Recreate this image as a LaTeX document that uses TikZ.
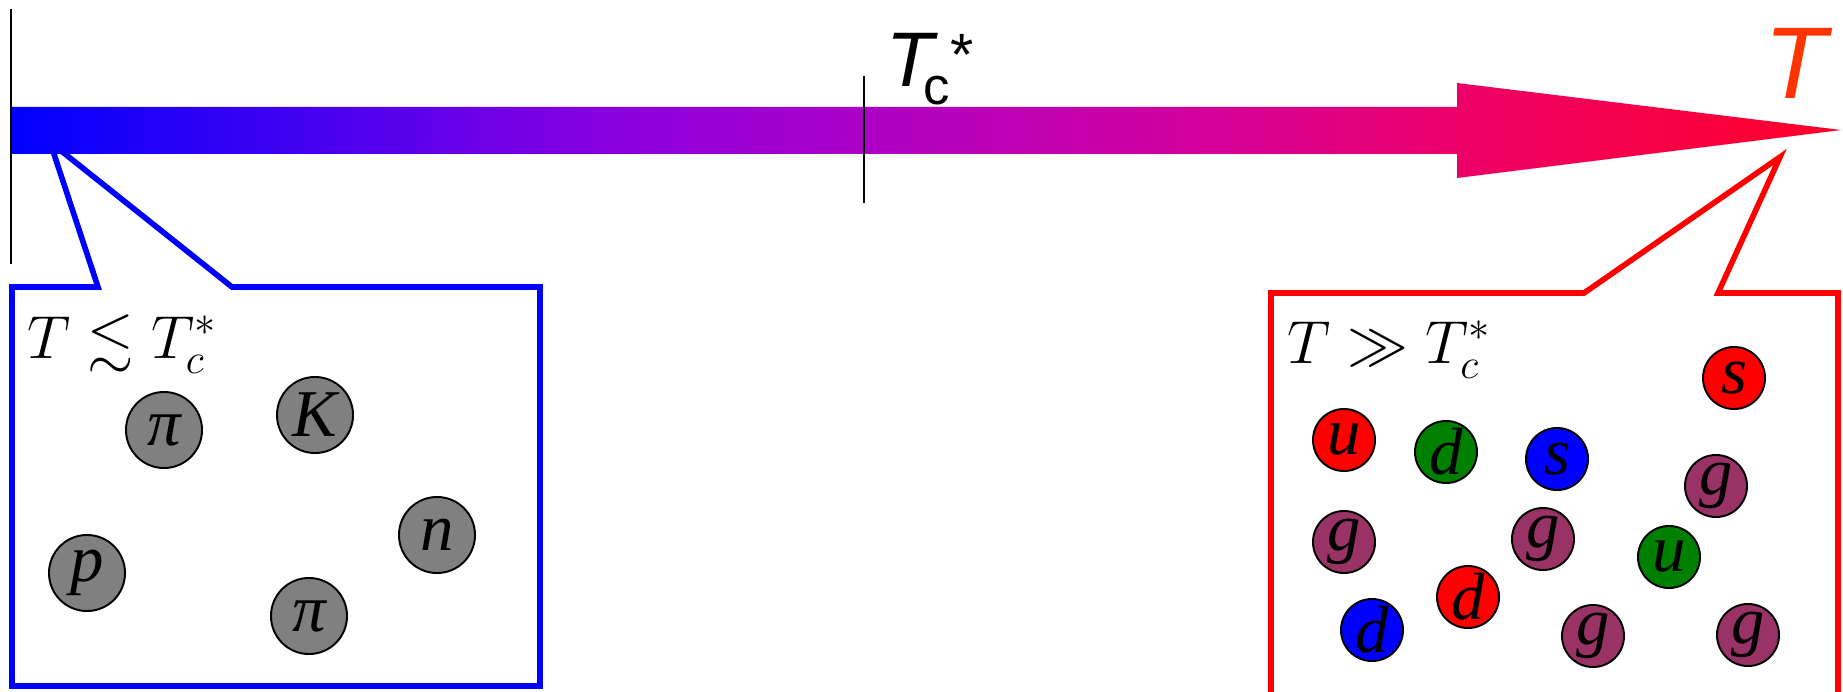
\documentclass[tikz,border=0pt]{standalone}
\usepackage{fontspec}
\usepackage{amsmath, amssymb}
\usepackage{xcolor}
\newfontfamily\axisfont{Liberation Sans}
\newfontfamily\partfont{Liberation Serif}
\definecolor{hadrongray}{RGB}{128,128,128}
\definecolor{gluon}{RGB}{153,51,102}
\definecolor{qgreen}{RGB}{0,128,0}
\definecolor{hotred}{RGB}{255,51,0}
\pgfdeclarehorizontalshading{tempgrad}{100bp}{rgb(0bp)=(0,0,1); rgb(25bp)=(0,0,1);
  rgb(41bp)=(0.53,0,0.88); rgb(48bp)=(0.67,0,0.78); rgb(57bp)=(0.82,0,0.62);
  rgb(65bp)=(0.93,0,0.4); rgb(75bp)=(1,0,0.15); rgb(100bp)=(1,0,0.15)}

\begin{document}
\begin{tikzpicture}[x=0.01cm, y=-0.01cm,
  every node/.style={inner sep=0pt},
  tick/.style={black, line width=0.55pt},
  coldbox/.style={draw=blue, line width=1.6pt, line join=miter},
  hotbox/.style={draw=red, line width=1.6pt, line join=miter},
  hadron/.style={circle, draw=black, line width=0.55pt, fill=hadrongray,
                 minimum size=0.76cm, font=\partfont\itshape\fontsize{19}{21}\selectfont},
  parton/.style={circle, draw=black, line width=0.55pt,
                 minimum size=0.62cm, font=\partfont\itshape\fontsize{19}{21}\selectfont},
  regime/.style={anchor=base west, font=\fontsize{17}{20}\selectfont}]
\useasboundingbox (0,0) rectangle (1843,691);

% callouts
\draw[coldbox] (12,287) -- (98,287) -- (50,142) -- (232,287) -- (540,287)
  -- (540,686) -- (12,686) -- cycle;
\draw[hotbox] (1271,700) -- (1271,293) -- (1584,293) -- (1780,157)
  -- (1718,293) -- (1838,293) -- (1838,700);

% temperature axis
\shade[shading=tempgrad] (12,107) -- (1457,107) -- (1457,83) -- (1841,130)
  -- (1457,178) -- (1457,154) -- (12,154) -- cycle;
\coordinate (zeroA) at (11,9);
\coordinate (zeroB) at (11,264);
\coordinate (critA) at (864,76);
\coordinate (critB) at (864,203);
\draw[tick] (zeroA) -- (zeroB);
\draw[tick] (critA) -- (critB);

\node[anchor=base west] (tcrit) at (886,87)
  {\axisfont\fontsize{22}{24}\selectfont\itshape T\kern-0.13em\upshape
   \raisebox{-5pt}{\fontsize{15}{15}\selectfont c}\raisebox{3.4pt}{\fontsize{17}{17}\selectfont *}};
\node[anchor=base west, text=hotred, font=\axisfont\itshape\fontsize{29}{31}\selectfont]
  (taxis) at (1764,99) {T};

% hadron gas
\node[regime] (coldlab) at (27,358) {$T \lesssim T_c^*$};
\node[hadron] (pia) at (164,430) {π};
\node[hadron] (kaon) at (315,415) {K};
\node[hadron] (neutron) at (437,535) {n};
\node[hadron] (proton) at (87,573) {p};
\node[hadron] (pib) at (309,616) {π};

% quark-gluon plasma
\node[regime] (hotlab) at (1287,363) {$T \gg T_c^*$};
\node[parton, fill=red] (sr) at (1734,378) {s};
\node[parton, fill=red] (ur) at (1344,440) {u};
\node[parton, fill=qgreen] (dg) at (1446,452) {d};
\node[parton, fill=blue] (sb) at (1557,459) {s};
\node[parton, fill=gluon] (ga) at (1716,486) {g};
\node[parton, fill=gluon] (gb) at (1344,542) {g};
\node[parton, fill=gluon] (gc) at (1543,539) {g};
\node[parton, fill=qgreen] (ug) at (1669,557) {u};
\node[parton, fill=red] (dr) at (1468,597) {d};
\node[parton, fill=blue] (db) at (1372,630) {d};
\node[parton, fill=gluon] (gd) at (1593,636) {g};
\node[parton, fill=gluon] (ge) at (1748,635) {g};
\end{tikzpicture}
\end{document}
